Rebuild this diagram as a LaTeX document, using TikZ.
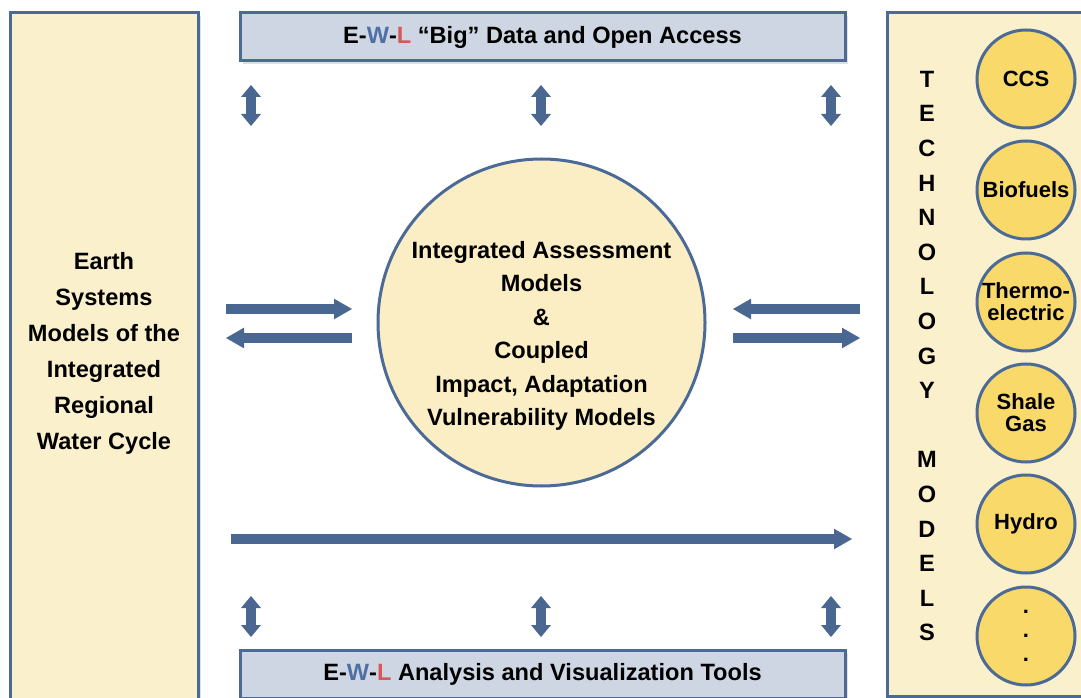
\documentclass[tikz,border=0pt]{standalone}
\usepackage{fontspec}
\setmainfont{Liberation Sans}
\usetikzlibrary{arrows.meta,shadows}
\definecolor{bord}{RGB}{75,106,150}
\definecolor{arrowc}{RGB}{74,103,145}
\definecolor{cream}{RGB}{251,240,204}
\definecolor{bigcirc}{RGB}{251,238,196}
\definecolor{topfill}{RGB}{206,214,228}
\definecolor{yell}{RGB}{249,217,105}
\definecolor{wblue}{RGB}{79,111,165}
\definecolor{lred}{RGB}{214,88,88}
\tikzset{
  panel/.style={draw=bord, line width=2.25pt, fill=cream, inner sep=0pt,
    drop shadow={shadow xshift=2pt, shadow yshift=-2pt, opacity=0.25}},
  barbox/.style={draw=bord, line width=2.25pt, fill=topfill, inner sep=0pt,
    minimum width=453.75pt, minimum height=36pt,
    drop shadow={shadow xshift=2pt, shadow yshift=-2pt, opacity=0.25}},
  techcirc/.style={circle, draw=bord, line width=2.25pt, fill=yell, inner sep=0pt,
    minimum size=73.5pt, align=center, font=\bfseries\fontsize{16.5}{16.5}\selectfont},
  harrow/.style={draw=arrowc, line width=7.5pt, -{Triangle[length=13.5pt,width=15.5pt,line width=0pt]}},
  varrow/.style={draw=arrowc, line width=7.5pt,
    {Triangle[length=9pt,width=15pt,line width=0pt]}-{Triangle[length=9pt,width=15pt,line width=0pt]}},
  txt/.style={align=center, inner sep=0pt}
}
\begin{document}
\begin{tikzpicture}[x=0.75pt, y=-0.75pt, font=\bfseries\fontsize{17.7}{25}\selectfont]
\useasboundingbox (0,0) rectangle (1081,698);
% panels
\node[panel, minimum width=141pt, minimum height=519pt] (leftbox) at (104,359) {};
\node[panel, minimum width=152.25pt, minimum height=512.25pt] (rightbox) at (988.5,354.5) {};
\node[barbox] (topbox) at (542.5,37) {E-\textcolor{wblue}{W}-\textcolor{lred}{L} “Big” Data and Open Access};
\node[barbox] (botbox) at (542.5,674) {E-\textcolor{wblue}{W}-\textcolor{lred}{L} Analysis and Visualization Tools};
% texts
\node[txt, font=\bfseries\fontsize{17.7}{27}\selectfont] (lefttext) at (104,353)
  {Earth\\Systems\\Models of the\\Integrated\\Regional\\Water Cycle};
\node[circle, draw=bord, line width=2.25pt, fill=bigcirc, minimum size=245.25pt, inner sep=0pt] (iam) at (541.5,322.5) {};
\node[txt, font=\bfseries\fontsize{17.7}{25.1}\selectfont] (iamtext) at (541.5,336)
  {Integrated Assessment\\Models\\\&\\Coupled\\Impact, Adaptation\\Vulnerability Models};
\node[txt, font=\bfseries\fontsize{17.7}{25.95}\selectfont] (tech) at (927,356)
  {T\\E\\C\\H\\N\\O\\L\\O\\G\\Y\\[25.95pt]M\\O\\D\\E\\L\\S};
% technology circles
\node[techcirc] (ccs) at (1026,79) {CCS};
\node[techcirc] (bio) at (1026,190) {Biofuels};
\node[techcirc] (thermo) at (1026,302) {Thermo-\\electric};
\node[techcirc] (shale) at (1026,413) {Shale\\Gas};
\node[techcirc] (hydro) at (1026,524) {Hydro};
\node[techcirc, font=\bfseries\fontsize{16.5}{18}\selectfont] (more) at (1026,636) {.\\.\\.};
% arrow end points
\coordinate (a1s) at (226,309); \coordinate (a1e) at (352,309);
\coordinate (a2s) at (352,338); \coordinate (a2e) at (226,338);
\coordinate (a3s) at (860,309); \coordinate (a3e) at (733,309);
\coordinate (a4s) at (733,338); \coordinate (a4e) at (860,338);
\coordinate (a5s) at (231,539); \coordinate (a5e) at (852,539);
\draw[harrow] (a1s) -- (a1e);
\draw[harrow] (a2s) -- (a2e);
\draw[harrow] (a3s) -- (a3e);
\draw[harrow] (a4s) -- (a4e);
\draw[harrow] (a5s) -- (a5e);
% vertical double arrows
\foreach \x/\n in {251/l,541/m,831/r}{
  \coordinate (t\n1) at (\x,85); \coordinate (t\n2) at (\x,126);
  \coordinate (b\n1) at (\x,596); \coordinate (b\n2) at (\x,637);
  \draw[varrow] (t\n1) -- (t\n2);
  \draw[varrow] (b\n1) -- (b\n2);
}
\end{tikzpicture}
\end{document}
